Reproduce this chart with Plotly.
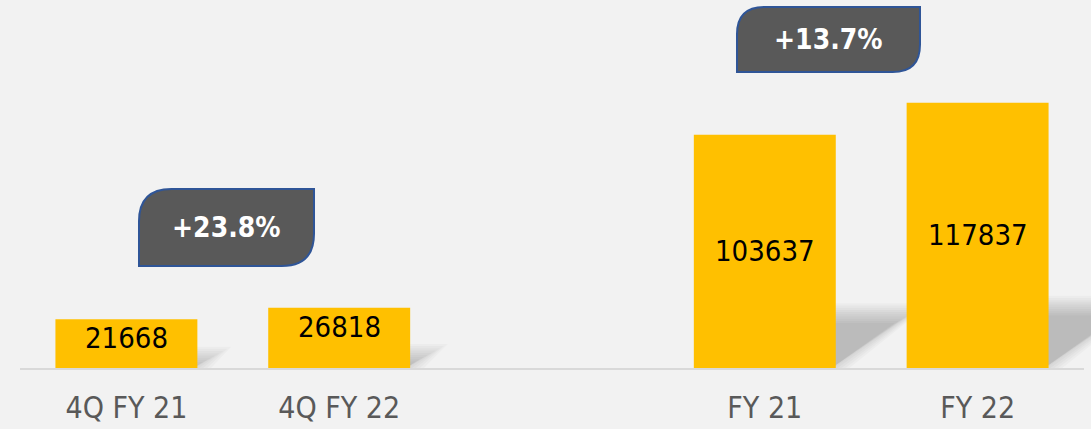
import plotly.graph_objects as go

# ---- data ----
quarter_labels = ["4Q FY 21", "4Q FY 22"]
quarter_values = [21668, 26818]
annual_labels = ["FY 21", "FY 22"]
annual_values = [103637, 117837]
growth_labels = ["+23.8%", "+13.7%"]

# ---- style / layout ----
BG = "#f2f2f2"
BAR = "#ffc000"
W, H = 1091, 429
ML, MR, MT, MB = 20, 7, 0, 61
PW, PH = W - ML - MR, H - MT - MB
YMAX = 163500
GAP = " "
cat_order = quarter_labels + [GAP] + annual_labels
NS = len(cat_order)
BARW = 0.667

VAL_FONT = dict(family="DejaVu Sans Condensed, DejaVu Sans, sans-serif", size=29, color="black")
AX_FONT = dict(family="DejaVu Sans Condensed, DejaVu Sans, sans-serif", size=30, color="#595959")
CALL_FONT = dict(family="DejaVu Sans Condensed, DejaVu Sans, sans-serif", size=28, color="white", weight="bold")


def px2paper(x, y):
    return (x - ML) / PW, (MT + PH - y) / PH


fig = go.Figure()
fig.add_trace(go.Bar(x=quarter_labels, y=quarter_values, width=BARW,
                     marker=dict(color=BAR, line_width=0), hoverinfo="skip"))
fig.add_trace(go.Bar(x=annual_labels, y=annual_values, width=BARW,
                     marker=dict(color=BAR, line_width=0), hoverinfo="skip"))

shapes = []
annotations = []

# soft perspective shadows to the right of each bar
base = MT + PH
NL = 10
for lab, v in zip(quarter_labels + annual_labels, quarter_values + annual_values):
    idx = cat_order.index(lab)
    slot = PW / NS
    R = ML + (idx + 0.5) * slot + BARW / 2 * slot
    h = 0.235 * v * PH / YMAX
    dx = 1.4 * h
    for k in range(NL):
        e = (k - (NL - 1) / 2) * 2.2
        pts = [(R - 4, base), (R - 4 + max(e, 0) * 1.8, base),
               (R + dx + e * 1.8, base - h - e), (R - 4, base - h - e)]
        pp = [px2paper(x, y) for x, y in pts]
        path = "M " + " L ".join(f"{a:.5f},{b:.5f}" for a, b in pp) + " Z"
        shapes.append(dict(type="path", path=path, xref="paper", yref="paper",
                           fillcolor="rgba(0,0,0,0.024)", line=dict(width=0), layer="below"))

# value labels
for lab, v in zip(quarter_labels, quarter_values):
    annotations.append(dict(x=lab, y=v, xref="x", yref="y", text=f"{v}", showarrow=False,
                            yanchor="middle", yshift=-19, font=VAL_FONT))
for lab, v in zip(annual_labels, annual_values):
    annotations.append(dict(x=lab, y=v / 2, xref="x", yref="y", text=f"{v}", showarrow=False,
                            yanchor="middle", font=VAL_FONT))

# growth callouts (round-diagonal-corner boxes)
boxes = [(139, 189, 314, 266), (737, 7, 920, 72)]
for (x0, y0, x1, y1), txt in zip(boxes, growth_labels):
    r = 0.42 * (y1 - y0)
    segs = [("M", [(x0, y0 + r)]), ("Q", [(x0, y0), (x0 + r, y0)]), ("L", [(x1, y0)]),
            ("L", [(x1, y1 - r)]), ("Q", [(x1, y1), (x1 - r, y1)]), ("L", [(x0, y1)])]
    path = ""
    for cmd, pts in segs:
        path += cmd + " " + " ".join("%.5f,%.5f" % px2paper(x, y) for x, y in pts) + " "
    path += "Z"
    shapes.append(dict(type="path", path=path, xref="paper", yref="paper",
                       fillcolor="#595959", line=dict(color="#2f5597", width=2), layer="above"))
    cx, cy = px2paper((x0 + x1) / 2, (y0 + y1) / 2)
    annotations.append(dict(x=cx, y=cy, xref="paper", yref="paper", text=txt, showarrow=False,
                            xanchor="center", yanchor="middle", font=CALL_FONT))

fig.update_layout(
    width=W, height=H, margin=dict(l=ML, r=MR, t=MT, b=MB),
    paper_bgcolor=BG, plot_bgcolor=BG, barmode="overlay", showlegend=False,
    shapes=shapes, annotations=annotations,
    xaxis=dict(type="category", categoryorder="array", categoryarray=cat_order,
               range=[-0.5, NS - 0.5], showline=True, linecolor="#d9d9d9", linewidth=2,
               showgrid=False, zeroline=False, ticks="", tickfont=AX_FONT,
               ticklabelstandoff=12, fixedrange=True),
    yaxis=dict(range=[0, YMAX], visible=False, fixedrange=True),
)

fig.write_html("out.html", config={"displayModeBar": False},
               post_script="document.body.style.margin='0';document.body.style.background='#f2f2f2';")
